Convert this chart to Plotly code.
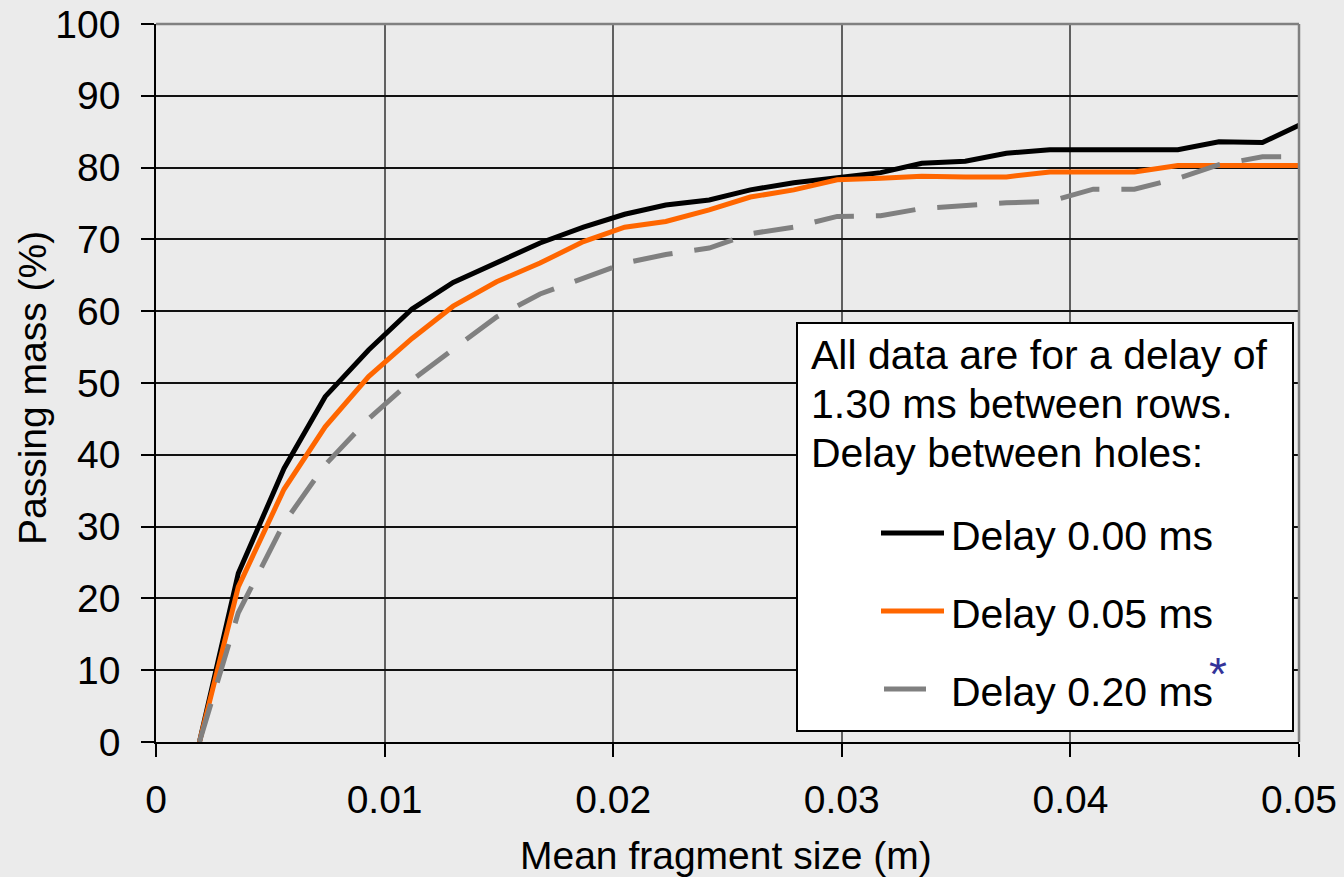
import plotly.graph_objects as go

# ---------------- data ----------------
fragment_size_m = [0.0019, 0.0036, 0.0056, 0.0074, 0.0093, 0.0112, 0.0130, 0.0149, 0.0168,
                   0.0187, 0.0205, 0.0223, 0.0242, 0.0260, 0.0279, 0.0298, 0.0317, 0.0335,
                   0.0354, 0.0372, 0.0391, 0.0410, 0.0428, 0.0447, 0.0465, 0.0484, 0.0500]

passing_delay_000 = [0, 23.5, 38.1, 48.1, 54.6, 60.3, 64.0, 66.7, 69.5, 71.7, 73.5, 74.8, 75.5,
                     76.9, 77.9, 78.6, 79.3, 80.6, 80.9, 82.0, 82.5, 82.5, 82.5, 82.5, 83.6, 83.5, 85.9]

passing_delay_005 = [0, 21.6, 35.2, 43.9, 50.9, 56.2, 60.7, 64.1, 66.7, 69.7, 71.7, 72.5, 74.1,
                     75.9, 76.9, 78.3, 78.5, 78.8, 78.7, 78.7, 79.4, 79.4, 79.4, 80.3, 80.3, 80.3, 80.3]

passing_delay_020 = [0, 18.0, 30.5, 38.6, 45.0, 50.4, 54.7, 59.2, 62.4, 64.6, 66.7, 67.9, 68.8,
                     70.8, 71.7, 73.2, 73.3, 74.3, 74.7, 75.1, 75.3, 77.0, 77.0, 78.5, 80.4, 81.5, 81.5]

series_names = ["Delay 0.00 ms", "Delay 0.05 ms", "Delay 0.20 ms"]
x_tick_vals = [0, 0.01, 0.02, 0.03, 0.04, 0.05]
x_tick_text = ["0", "0.01", "0.02", "0.03", "0.04", "0.05"]
y_tick_vals = [0, 10, 20, 30, 40, 50, 60, 70, 80, 90, 100]
note_lines = ["All data are for a delay of", "1.30 ms between rows.", "Delay between holes:"]

# ---------------- layout helpers ----------------
W, H = 1344, 877
L, R, T, B = 156, 45, 24, 135
PW, PH = W - L - R, H - T - B
FONT = "Liberation Sans, Arial, sans-serif"
BG = "#ebebeb"
colors = ["#000000", "#ff6600", "#808080"]
dashes = ["solid", "solid", "40px,22px"]


def px(xp):
    return (xp - L) / PW


def py(yp):
    return (H - B - yp) / PH


fig = go.Figure()
for ys, name, c, d in zip([passing_delay_000, passing_delay_005, passing_delay_020],
                          series_names, colors, dashes):
    fig.add_trace(go.Scatter(x=fragment_size_m, y=ys, mode="lines", name=name,
                             line=dict(color=c, width=5, dash=d), showlegend=False))

shapes = [
    dict(type="line", xref="paper", yref="paper", x0=0, x1=1, y0=1, y1=1,
         line=dict(color="#808080", width=2.5)),
    dict(type="line", xref="paper", yref="paper", x0=1, x1=1, y0=0, y1=1,
         line=dict(color="#808080", width=2.5)),
    dict(type="rect", xref="paper", yref="paper", x0=px(797), x1=px(1293), y0=py(731), y1=py(323),
         fillcolor="white", line=dict(color="black", width=2), layer="above"),
]
sample_y = [533, 611, 689]
sample_x = [(881, 944), (881, 944), (884, 926)]
for (x0, x1), yy, c in zip(sample_x, sample_y, colors):
    shapes.append(dict(type="line", xref="paper", yref="paper", x0=px(x0), x1=px(x1),
                       y0=py(yy), y1=py(yy), line=dict(color=c, width=5), layer="above"))

annotations = []
for i, t in enumerate(note_lines):
    annotations.append(dict(text=t, xref="paper", yref="paper", x=px(809), y=py(355 + 49 * i),
                            xanchor="left", yanchor="middle", showarrow=False,
                            font=dict(family=FONT, size=41, color="black")))
for t, yy in zip(series_names, sample_y):
    annotations.append(dict(text=t, xref="paper", yref="paper", x=px(949), y=py(yy + 3),
                            xanchor="left", yanchor="middle", showarrow=False,
                            font=dict(family=FONT, size=41, color="black")))
annotations.append(dict(text="*", xref="paper", yref="paper", x=px(1207), y=py(674),
                        xanchor="left", yanchor="middle", showarrow=False,
                        font=dict(family=FONT, size=46, color="#333399")))
annotations.append(dict(text="Mean fragment size (m)", xref="paper", yref="paper",
                        x=px(726), y=py(855), xanchor="center", yanchor="middle", showarrow=False,
                        font=dict(family=FONT, size=39, color="black")))
annotations.append(dict(text="Passing mass (%)", xref="paper", yref="paper",
                        x=px(32), y=py(388), xanchor="center", yanchor="middle", showarrow=False,
                        textangle=-90, font=dict(family=FONT, size=39, color="black")))

fig.update_layout(
    width=W, height=H,
    margin=dict(l=L, r=R, t=T, b=B, autoexpand=False),
    paper_bgcolor=BG, plot_bgcolor=BG,
    font=dict(family=FONT, size=39, color="black"),
    shapes=shapes, annotations=annotations,
    xaxis=dict(range=[0, 0.05], tickvals=x_tick_vals, ticktext=x_tick_text,
               showgrid=True, gridcolor="#606060", gridwidth=1.5,
               showline=True, linecolor="black", linewidth=1.5,
               ticks="outside", ticklen=13, tickcolor="black", tickwidth=1.5,
               ticklabelstandoff=9, zeroline=False, automargin=False,
               tickfont=dict(family=FONT, size=39, color="black")),
    yaxis=dict(range=[0, 100], tickvals=y_tick_vals,
               showgrid=True, gridcolor="#111111", gridwidth=1.5,
               showline=True, linecolor="black", linewidth=1.5,
               ticks="outside", ticklen=13, tickcolor="black", tickwidth=1.5,
               ticklabelstandoff=13, zeroline=False, automargin=False,
               tickfont=dict(family=FONT, size=39, color="black")),
)

fig.write_html("out.html", config={"displayModeBar": False},
               post_script="document.body.style.margin='0';document.body.style.background='#ebebeb';")
